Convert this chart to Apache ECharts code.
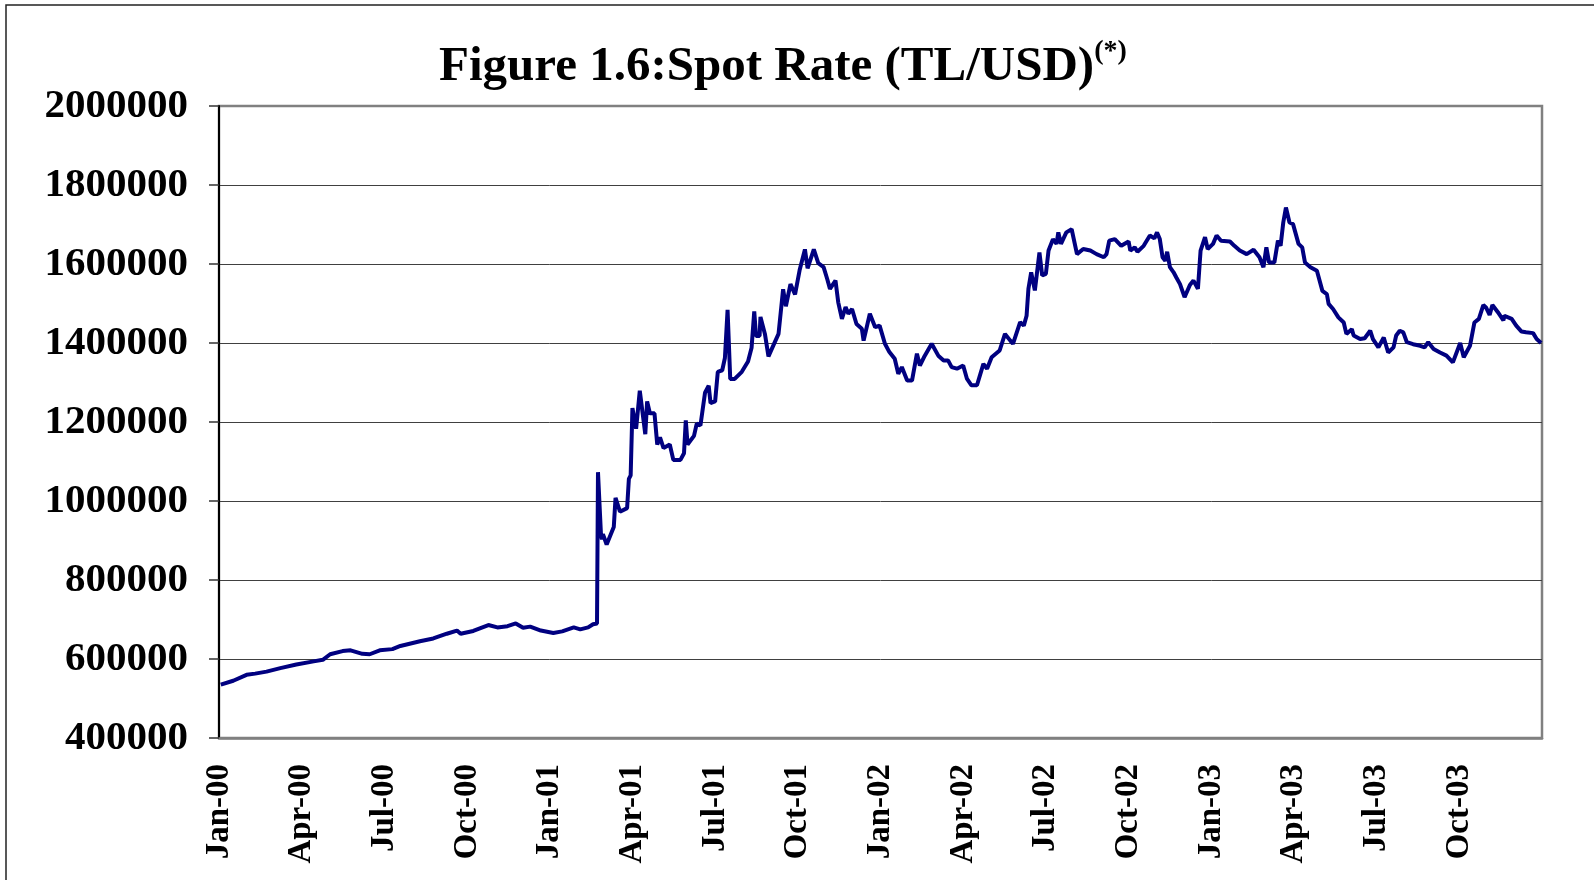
<!DOCTYPE html>
<html>
<head>
<meta charset="utf-8">
<script src="https://cdn.jsdelivr.net/npm/echarts@6/dist/echarts.min.js"></script>
<style>
  html, body { margin: 0; padding: 0; background: #fff; }
  #chart { width: 1594px; height: 880px; }
</style>
</head>
<body>
<div id="chart"></div>
<script>
// TL per USD (date, rate)
const spot2000 = [
  ['2000-01-03', 535000], ['2000-01-17', 545000], ['2000-02-01', 560000], ['2000-02-10', 563000],
  ['2000-02-22', 568000], ['2000-03-08', 577000], ['2000-03-26', 586000], ['2000-04-14', 594000],
  ['2000-04-24', 598000], ['2000-05-02', 612000], ['2000-05-16', 620000], ['2000-05-25', 622000],
  ['2000-06-07', 613000], ['2000-06-15', 612000], ['2000-06-26', 622000], ['2000-07-10', 625000],
  ['2000-07-19', 633000], ['2000-08-10', 645000], ['2000-08-25', 652000], ['2000-09-09', 664000],
  ['2000-09-20', 672000], ['2000-09-24', 664000], ['2000-10-08', 671000], ['2000-10-25', 686000],
  ['2000-11-04', 680000], ['2000-11-15', 683000], ['2000-11-24', 690000], ['2000-12-02', 679000],
  ['2000-12-10', 682000], ['2000-12-22', 672000]
];
const spot2001 = [
  ['2001-01-05', 666000], ['2001-01-15', 670000], ['2001-01-28', 680000], ['2001-02-04', 675000],
  ['2001-02-12', 680000], ['2001-02-17', 688000], ['2001-02-21', 690000], ['2001-02-22', 1073000],
  ['2001-02-25', 916000], ['2001-02-26', 903000], ['2001-02-27', 916000], ['2001-03-03', 890000],
  ['2001-03-11', 934000], ['2001-03-13', 1008000], ['2001-03-18', 973000], ['2001-03-26', 982000],
  ['2001-03-28', 1056000], ['2001-03-30', 1065000], ['2001-04-01', 1235000], ['2001-04-05', 1183000],
  ['2001-04-09', 1279000], ['2001-04-15', 1169000], ['2001-04-17', 1252000], ['2001-04-20', 1222000],
  ['2001-04-25', 1222000], ['2001-04-28', 1143000], ['2001-05-01', 1161000], ['2001-05-05', 1134000],
  ['2001-05-12', 1143000], ['2001-05-16', 1104000], ['2001-05-24', 1104000], ['2001-05-28', 1121000],
  ['2001-05-30', 1204000], ['2001-06-01', 1143000], ['2001-06-08', 1165000], ['2001-06-11', 1196000],
  ['2001-06-15', 1191000], ['2001-06-20', 1274000], ['2001-06-24', 1292000], ['2001-06-26', 1248000],
  ['2001-07-01', 1252000], ['2001-07-04', 1327000], ['2001-07-09', 1331000], ['2001-07-12', 1362000],
  ['2001-07-15', 1484000], ['2001-07-18', 1309000], ['2001-07-23', 1309000], ['2001-07-31', 1327000],
  ['2001-08-07', 1353000], ['2001-08-11', 1388000], ['2001-08-14', 1480000], ['2001-08-16', 1418000],
  ['2001-08-20', 1418000], ['2001-08-21', 1466000], ['2001-08-26', 1423000], ['2001-08-30', 1366000],
  ['2001-09-05', 1397000], ['2001-09-10', 1423000], ['2001-09-15', 1536000], ['2001-09-18', 1493000],
  ['2001-09-23', 1549000], ['2001-09-28', 1523000], ['2001-10-03', 1584000], ['2001-10-09', 1637000],
  ['2001-10-12', 1589000], ['2001-10-19', 1637000], ['2001-10-24', 1602000], ['2001-10-30', 1592000],
  ['2001-11-03', 1562000], ['2001-11-06', 1537000], ['2001-11-12', 1558000], ['2001-11-15', 1503000],
  ['2001-11-19', 1461000], ['2001-11-23', 1491000], ['2001-11-26', 1474000], ['2001-11-30', 1486000],
  ['2001-12-05', 1448000], ['2001-12-11', 1436000], ['2001-12-13', 1406000], ['2001-12-20', 1474000],
  ['2001-12-26', 1440000], ['2001-12-31', 1444000]
];
const spot2002 = [
  ['2002-01-06', 1398000], ['2002-01-11', 1377000], ['2002-01-17', 1360000], ['2002-01-21', 1322000],
  ['2002-01-25', 1339000], ['2002-01-31', 1305000], ['2002-02-05', 1305000], ['2002-02-10', 1373000],
  ['2002-02-13', 1343000], ['2002-02-18', 1368000], ['2002-02-25', 1398000], ['2002-03-04', 1368000],
  ['2002-03-10', 1356000], ['2002-03-15', 1356000], ['2002-03-19', 1339000], ['2002-03-25', 1335000],
  ['2002-04-01', 1343000], ['2002-04-05', 1310000], ['2002-04-10', 1293000], ['2002-04-16', 1293000],
  ['2002-04-23', 1347000], ['2002-04-27', 1335000], ['2002-05-02', 1364000], ['2002-05-11', 1381000],
  ['2002-05-17', 1423000], ['2002-05-23', 1406000], ['2002-05-26', 1398000], ['2002-06-03', 1453000],
  ['2002-06-07', 1444000], ['2002-06-10', 1469000], ['2002-06-12', 1537000], ['2002-06-15', 1579000],
  ['2002-06-19', 1533000], ['2002-06-24', 1629000], ['2002-06-27', 1571000], ['2002-07-01', 1575000],
  ['2002-07-04', 1634000], ['2002-07-09', 1663000], ['2002-07-13', 1651000], ['2002-07-15', 1680000],
  ['2002-07-18', 1651000], ['2002-07-24', 1680000], ['2002-07-30', 1688000], ['2002-08-05', 1625000],
  ['2002-08-12', 1638000], ['2002-08-20', 1634000], ['2002-08-27', 1625000], ['2002-09-04', 1617000],
  ['2002-09-07', 1625000], ['2002-09-10', 1659000], ['2002-09-16', 1663000], ['2002-09-23', 1646000],
  ['2002-10-01', 1657000], ['2002-10-03', 1634000], ['2002-10-08', 1642000], ['2002-10-11', 1631000],
  ['2002-10-18', 1646000], ['2002-10-25', 1672000], ['2002-10-30', 1665000], ['2002-11-02', 1680000],
  ['2002-11-05', 1663000], ['2002-11-08', 1617000], ['2002-11-11', 1608000], ['2002-11-13', 1631000],
  ['2002-11-16', 1592000], ['2002-11-20', 1579000], ['2002-11-23', 1566000], ['2002-11-27', 1549000],
  ['2002-12-02', 1516000], ['2002-12-08', 1547000], ['2002-12-12', 1558000], ['2002-12-17', 1537000],
  ['2002-12-20', 1634000], ['2002-12-25', 1668000], ['2002-12-28', 1638000]
];
const spot2003 = [
  ['2003-01-03', 1651000], ['2003-01-07', 1672000], ['2003-01-12', 1659000], ['2003-01-22', 1657000],
  ['2003-01-27', 1646000], ['2003-02-02', 1634000], ['2003-02-09', 1625000], ['2003-02-16', 1636000],
  ['2003-02-22', 1617000], ['2003-02-26', 1592000], ['2003-03-01', 1642000], ['2003-03-04', 1604000],
  ['2003-03-10', 1604000], ['2003-03-14', 1659000], ['2003-03-17', 1646000], ['2003-03-20', 1705000],
  ['2003-03-23', 1743000], ['2003-03-27', 1705000], ['2003-03-31', 1701000], ['2003-04-06', 1651000],
  ['2003-04-10', 1642000], ['2003-04-13', 1604000], ['2003-04-19', 1592000], ['2003-04-26', 1583000],
  ['2003-05-02', 1532000], ['2003-05-07', 1524000], ['2003-05-09', 1499000], ['2003-05-14', 1486000],
  ['2003-05-20', 1465000], ['2003-05-26', 1452000], ['2003-05-29', 1423000], ['2003-06-04', 1435000],
  ['2003-06-06', 1419000], ['2003-06-13', 1410000], ['2003-06-18', 1412000], ['2003-06-24', 1431000],
  ['2003-06-27', 1410000], ['2003-07-03', 1389000], ['2003-07-09', 1414000], ['2003-07-14', 1376000],
  ['2003-07-20', 1389000], ['2003-07-23', 1419000], ['2003-07-27', 1431000], ['2003-07-31', 1427000],
  ['2003-08-04', 1402000], ['2003-08-11', 1397000], ['2003-08-19', 1393000], ['2003-08-24', 1389000],
  ['2003-08-28', 1402000], ['2003-09-03', 1385000], ['2003-09-10', 1376000], ['2003-09-17', 1368000],
  ['2003-09-24', 1351000], ['2003-10-02', 1400000], ['2003-10-06', 1364000], ['2003-10-13', 1393000],
  ['2003-10-18', 1452000], ['2003-10-23', 1461000], ['2003-10-28', 1496000], ['2003-10-31', 1490000],
  ['2003-11-04', 1471000], ['2003-11-07', 1496000], ['2003-11-13', 1478000], ['2003-11-19', 1457000],
  ['2003-11-20', 1469000], ['2003-11-28', 1461000], ['2003-12-03', 1444000], ['2003-12-09', 1429000],
  ['2003-12-14', 1427000], ['2003-12-22', 1425000], ['2003-12-26', 1410000], ['2003-12-31', 1400000]
];
const quarterLabels = [
  'Jan-00', 'Apr-00', 'Jul-00', 'Oct-00', 'Jan-01', 'Apr-01', 'Jul-01', 'Oct-01',
  'Jan-02', 'Apr-02', 'Jul-02', 'Oct-02', 'Jan-03', 'Apr-03', 'Jul-03', 'Oct-03'
];

// months since Jan 2000, so quarter ticks land on month starts
function toMonth(s) {
  const [y, m, d] = s.split('-').map(Number);
  const days = new Date(y, m, 0).getDate();
  return (y - 2000) * 12 + (m - 1) + (d - 1) / days;
}

const points = [...spot2000, ...spot2001, ...spot2002, ...spot2003].map(([d, v]) => [toMonth(d), v]);

const FONT = '"Liberation Serif", "Times New Roman", serif';
const chart = echarts.init(document.getElementById('chart'));

chart.setOption({
  animation: false,
  backgroundColor: '#fff',
  title: {
    text: '{a|Figure 1.6:Spot Rate (TL/USD)}{b|(*)}',
    left: 434,
    top: 33,
    textStyle: {
      rich: {
        a: { fontFamily: FONT, fontWeight: 'bold', fontSize: 49, lineHeight: 58, color: '#000' },
        b: { fontFamily: FONT, fontWeight: 'bold', fontSize: 28, lineHeight: 32, verticalAlign: 'top', color: '#000' }
      }
    }
  },
  graphic: [{
    type: 'rect',
    shape: { x: 6, y: 5, width: 1620, height: 900 },
    style: { fill: null, stroke: '#222', lineWidth: 1.5 },
    silent: true
  }],
  grid: {
    left: 219, right: 52, top: 106, bottom: 142,
    show: true, borderColor: '#808080', borderWidth: 2.5
  },
  xAxis: {
    type: 'value',
    min: 0, max: 48, interval: 3,
    axisLine: { show: true, lineStyle: { color: '#808080', width: 2.5 } },
    axisTick: { show: false },
    splitLine: { show: false },
    axisLabel: {
      rotate: 90,
      margin: 26,
      color: '#000',
      fontFamily: FONT, fontWeight: 'bold', fontSize: 33,
      formatter: v => quarterLabels[v / 3] || ''
    }
  },
  yAxis: {
    type: 'value',
    min: 400000, max: 2000000, interval: 200000,
    axisLine: { show: true, lineStyle: { color: '#000', width: 2 } },
    axisTick: { show: true, length: 10, lineStyle: { color: '#333', width: 1.5 } },
    splitLine: { show: true, showMinLine: false, showMaxLine: false, lineStyle: { color: '#404040', width: 1 } },
    axisLabel: {
      margin: 31,
      color: '#000',
      fontFamily: FONT, fontWeight: 'bold', fontSize: 41,
      formatter: v => String(v)
    }
  },
  series: [{
    type: 'line',
    data: points,
    showSymbol: false,
    lineStyle: { color: '#000080', width: 4 },
    z: 3
  }]
});
</script>
</body>
</html>
